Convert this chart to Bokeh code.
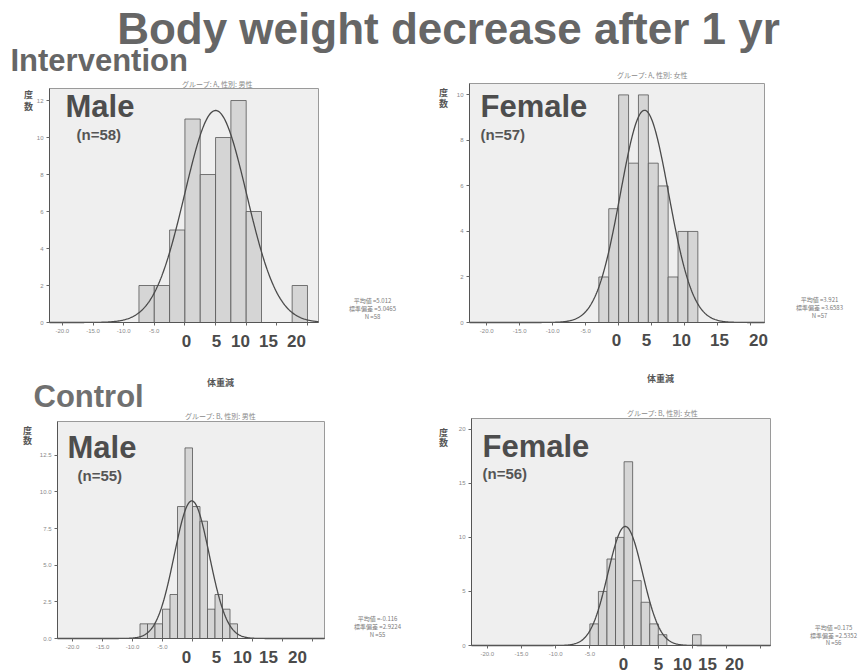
import numpy as np
from bokeh.plotting import figure
from bokeh.models import Range1d, Label, FixedTicker, LinearAxis, BoxAnnotation
from bokeh.layouts import column, row
from bokeh.embed import file_html
from bokeh.resources import INLINE

# ---------------- data ----------------
TITLE = "Body weight decrease after 1 yr"
GROUP_LABELS = ["Intervention", "Control"]
X_TICKS = [-20, -15, -10, -5, 0, 5, 10, 15, 20]
X_TICK_TEXT = ["-20.0", "-15.0", "-10.0", "-5.0", "", "", "", "", ""]
BIG_TICKS = ["0", "5", "10", "15", "20"]
X_AXIS_TITLE = "体重減"
Y_AXIS_TITLE = ["度", "数"]

# Intervention, male
im_start, im_bin = -7.5, 2.5
im_counts = [2, 2, 5, 11, 8, 10, 12, 6, 0, 0, 2]
im_mean, im_sd, im_n = 5.012, 5.0465, 58
im_yticks = [0, 2, 4, 6, 8, 10, 12]
im_ytext = ["0", "2", "4", "6", "8", "10", "12"]

# Intervention, female
if_start, if_bin = -3.0, 1.5
if_counts = [2, 5, 10, 7, 10, 7, 6, 2, 4, 4]
if_mean, if_sd, if_n = 3.921, 3.6583, 57
if_yticks = [0, 2, 4, 6, 8, 10]
if_ytext = ["0", "2", "4", "6", "8", "10"]

# Control, male
cm_start, cm_bin = -8.75, 1.25
cm_counts = [1, 1, 1, 2, 3, 9, 13, 9, 8, 2, 3, 2, 1]
cm_mean, cm_sd, cm_n = -0.116, 2.9224, 55
cm_yticks = [0, 2.5, 5, 7.5, 10, 12.5]
cm_ytext = ["0.0", "2.5", "5.0", "7.5", "10.0", "12.5"]

# Control, female
cf_start, cf_bin = -5.0, 1.25
cf_counts = [2, 5, 8, 10, 17, 6, 4, 2, 1, 0, 0, 0, 1]
cf_mean, cf_sd, cf_n = 0.175, 2.5352, 56
cf_yticks = [0, 5, 10, 15, 20]
cf_ytext = ["0", "5", "10", "15", "20"]

# ---------------- styling ----------------
SANS = "Liberation Sans"
CJK = "Noto Sans CJK JP"
FRAME_BG = "#efefef"
BAR_FILL = "#d5d5d5"
DARK = "#4d4d4d"
HEADER_H = 79

# box: figure rectangle on the page (x, y, w, h); frame: histogram box (l, t, r, b)
panels = [
    dict(counts=im_counts, start=im_start, bin=im_bin, mean=im_mean, sd=im_sd, n=im_n,
         yticks=im_yticks, ytext=im_ytext, sex="Male", group="A", sex_jp="男性",
         box=(0, HEADER_H, 432, 420 - HEADER_H), frame=(49, 88, 318, 322), xr=(-22.1, 21.8), ytop=12.65,
         sex_pos=(65, 106), n_pos=(76, 134), gt_pos=(217, 83.5), freq_pos=(28, 94, 106),
         xt_pos=(220, 382), stat_pos=(372, 300, 8), big_x=[186, 216, 240, 268, 296], big_y=340),
    dict(counts=if_counts, start=if_start, bin=if_bin, mean=if_mean, sd=if_sd, n=if_n,
         yticks=if_yticks, ytext=if_ytext, sex="Female", group="A", sex_jp="女性",
         box=(432, HEADER_H, 433, 395 - HEADER_H), frame=(469, 83, 764, 322), xr=(-22.6, 22.1), ytop=10.5,
         sex_pos=(480, 106), n_pos=(480, 134), gt_pos=None, freq_pos=(443, 92, 103),
         xt_pos=(660, 378), stat_pos=(819, 299, 8), big_x=[616, 646, 681, 719, 758], big_y=339),
    dict(counts=cm_counts, start=cm_start, bin=cm_bin, mean=cm_mean, sd=cm_sd, n=cm_n,
         yticks=cm_yticks, ytext=cm_ytext, sex="Male", group="B", sex_jp="男性",
         box=(0, 420, 432, 252), frame=(57, 421, 324, 638), xr=(-22.5, 22.0), ytop=14.8,
         sex_pos=(67, 447), n_pos=(77, 475), gt_pos=None, freq_pos=(27, 430, 440),
         xt_pos=None, stat_pos=(377, 618, 8), big_x=[186, 216, 242, 268, 297], big_y=656),
    dict(counts=cf_counts, start=cf_start, bin=cf_bin, mean=cf_mean, sd=cf_sd, n=cf_n,
         yticks=cf_yticks, ytext=cf_ytext, sex="Female", group="B", sex_jp="女性",
         box=(432, 395, 433, 277), frame=(471, 418, 770, 645), xr=(-22.3, 21.4), ytop=21.0,
         sex_pos=(482, 446), n_pos=(482, 473), gt_pos=(662, 412), freq_pos=(443, 432, 442),
         xt_pos=None, stat_pos=(833, 627, 7.5), big_x=[623, 658, 682, 707, 734], big_y=663),
]


def add_label(p, x, y, text, size, color, font=SANS, style="normal", align="left", px=True):
    extra = dict(x_range_name="px", y_range_name="px") if px else {}
    p.add_layout(Label(x=x, y=y, text=text, text_font=font, text_font_size=f"{size}px",
                       text_font_style=style, text_color=color, text_align=align,
                       text_baseline="middle", **extra))


def group_caption(c):
    return f"グループ: {c['group']}, 性別: {c['sex_jp']}"


def make_panel(c):
    ox, oy, w, h = c["box"]
    fl, ft, fr, fb = c["frame"]
    x0, x1 = c["xr"]
    ytop = c["ytop"]
    kx = (fr - fl) / (x1 - x0)
    ky = (fb - ft) / ytop
    p = figure(width=w, height=h, output_backend="svg", toolbar_location=None, title=None,
               x_range=Range1d(x0 - (fl - ox) / kx, x1 + (ox + w - fr) / kx),
               y_range=Range1d(-(oy + h - fb) / ky, ytop + (ft - oy) / ky),
               x_axis_location=None, y_axis_location=None, min_border=0,
               background_fill_color="white", border_fill_color="white",
               outline_line_color=None)
    # page-pixel coordinates for the annotation texts
    p.extra_x_ranges = {"px": Range1d(ox, ox + w)}
    p.extra_y_ranges = {"px": Range1d(oy + h, oy)}
    p.grid.visible = False

    # histogram box
    p.add_layout(BoxAnnotation(left=x0, right=x1, bottom=0, top=ytop, level="underlay",
                               fill_color=FRAME_BG, fill_alpha=1.0,
                               line_color="#9a9a9a", line_width=1, line_alpha=1.0))

    counts = np.array(c["counts"], dtype=float)
    left = c["start"] + c["bin"] * np.arange(len(counts))
    keep = counts > 0
    p.quad(left=left[keep], right=left[keep] + c["bin"], bottom=0, top=counts[keep],
           fill_color=BAR_FILL, line_color="#555555", line_width=0.8)

    # fitted normal curve scaled to counts
    xs = np.linspace(x0, x1, 400)
    ys = c["n"] * c["bin"] / (c["sd"] * np.sqrt(2 * np.pi)) * np.exp(-0.5 * ((xs - c["mean"]) / c["sd"]) ** 2)
    p.line(xs, ys, line_color="#4a4a4a", line_width=1.3)

    xa = LinearAxis(ticker=FixedTicker(ticks=X_TICKS), fixed_location=0, bounds=(x0, x1),
                    major_label_overrides={t: s for t, s in zip(X_TICKS, X_TICK_TEXT)})
    ya = LinearAxis(ticker=FixedTicker(ticks=c["yticks"]), fixed_location=x0, bounds=(0, ytop),
                    major_label_overrides={t: s for t, s in zip(c["yticks"], c["ytext"])})
    for ax in (xa, ya):
        ax.axis_line_color = "#555555"
        ax.major_tick_line_color = "#666666"
        ax.major_tick_out = 3
        ax.major_tick_in = 0
        ax.minor_tick_line_color = None
        ax.major_label_text_font = SANS
        ax.major_label_text_font_size = "6px"
        ax.major_label_text_color = "#8a8a8a"
        ax.major_label_standoff = 3
    p.add_layout(xa, "below")
    p.add_layout(ya, "left")

    # overlay labels
    add_label(p, *c["sex_pos"], c["sex"], 31, DARK, style="bold")
    add_label(p, *c["n_pos"], f"(n={c['n']})", 15, "#555555", style="bold")
    if c["gt_pos"] is not None:
        add_label(p, *c["gt_pos"], group_caption(c), 7, "#8a8a8a", font=CJK, align="center")
    fx, fy1, fy2 = c["freq_pos"]
    add_label(p, fx, fy1, Y_AXIS_TITLE[0], 9, "#555555", font=CJK, style="bold", align="center")
    add_label(p, fx, fy2, Y_AXIS_TITLE[1], 9, "#555555", font=CJK, style="bold", align="center")
    if c["xt_pos"] is not None:
        add_label(p, *c["xt_pos"], X_AXIS_TITLE, 9, "#555555", font=CJK, style="bold", align="center")
    sx, sy, dy = c["stat_pos"]
    stats = [f"平均値 ={c['mean']:g}", f"標準偏差 ={c['sd']:.4f}", f"N ={c['n']}"]
    for i, s in enumerate(stats):
        add_label(p, sx, sy + i * dy, s, 6, "#7a7a7a", font=CJK, align="center")
    for bx, bt in zip(c["big_x"], BIG_TICKS):
        add_label(p, bx, c["big_y"], bt, 17, "#4a4a4a", style="bold", align="center")
    return p


figs = [make_panel(c) for c in panels]

# "Control" heading and the lower-left caption live in the upper-left figure's area
add_label(figs[0], 33, 396, GROUP_LABELS[1], 31, "#707070", style="bold")
add_label(figs[0], 220, 415.5, group_caption(panels[2]), 7, "#8a8a8a", font=CJK, align="center")

# header with the main title, the first group heading and the upper-right caption
top = figure(width=865, height=HEADER_H, output_backend="svg", toolbar_location=None, title=None,
             x_range=Range1d(0, 865), y_range=Range1d(HEADER_H, 0),
             x_axis_location=None, y_axis_location=None, min_border=0,
             outline_line_color=None, background_fill_color="white", border_fill_color="white")
top.grid.visible = False
add_label(top, 448, 28, TITLE, 44, "#666666", style="bold", align="center", px=False)
add_label(top, 10, 60, GROUP_LABELS[0], 31, "#666666", style="bold", px=False)
add_label(top, 652, 74.5, group_caption(panels[1]), 7, "#8a8a8a", font=CJK, align="center", px=False)

layout = column(top, row(column(figs[0], figs[2]), column(figs[1], figs[3])))

open("out.html", "w").write(file_html(layout, INLINE))
